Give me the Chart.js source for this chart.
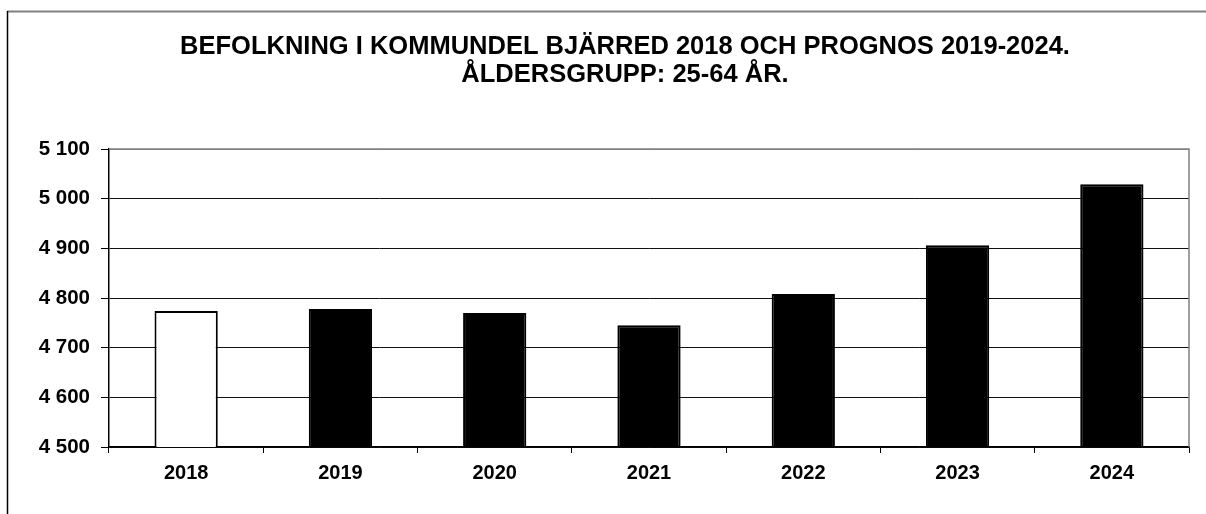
<!DOCTYPE html>
<html>
<head>
<meta charset="utf-8">
<script src="https://cdn.jsdelivr.net/npm/chart.js@4/dist/chart.umd.min.js"></script>
<style>
  html, body { margin: 0; padding: 0; background: #fff; }
  #wrap { width: 1206px; height: 514px; position: relative; }
</style>
</head>
<body>
<div id="wrap"><canvas id="befChart" width="1206" height="514"></canvas></div>
<script>
// ============================================================
// DATA
// ============================================================
var years  = ['2018', '2019', '2020', '2021', '2022', '2023', '2024'];
var values = [4774, 4778, 4770, 4745, 4808, 4906, 5029];
var barColors = ['#ffffff', '#000000', '#000000', '#000000', '#000000', '#000000', '#000000'];
var yMin = 4500, yMax = 5100, yStep = 100;
var titleLines = ['BEFOLKNING I KOMMUNDEL BJÄRRED 2018 OCH PROGNOS 2019-2024.', 'ÅLDERSGRUPP: 25-64 ÅR.'];

var FONT = '"Liberation Sans", Arial, Helvetica, sans-serif';

function fmtNum(v) {
  return String(v).replace(/\B(?=(\d{3})+(?!\d))/g, ' ');
}

// frame + title drawn around the chart
var framePlugin = {
  id: 'frame',
  beforeDraw: function(chart) {
    var c = chart.ctx;
    c.save();
    c.fillStyle = '#fff';
    c.fillRect(0, 0, chart.width, chart.height);
    // outer border (top gray, left black)
    c.strokeStyle = '#808080';
    c.lineWidth = 2;
    c.beginPath(); c.moveTo(7, 11.5); c.lineTo(chart.width, 11.5); c.stroke();
    c.strokeStyle = '#000';
    c.lineWidth = 1.5;
    c.beginPath(); c.moveTo(7.5, 11); c.lineTo(7.5, chart.height); c.stroke();
    // title
    c.fillStyle = '#000';
    c.font = 'bold 25.5px ' + FONT;
    c.textAlign = 'center';
    c.textBaseline = 'middle';
    c.fillText(titleLines[0], 625, 47);
    c.fillText(titleLines[1], 625, 75);
    c.restore();
  },
  afterDatasetsDraw: function(chart) {
    var a = chart.chartArea, c = chart.ctx;
    c.save();
    c.strokeStyle = '#808080';
    c.lineWidth = 1.5;
    c.beginPath(); c.moveTo(a.left, a.top); c.lineTo(a.right, a.top); c.lineTo(a.right, a.bottom); c.stroke();
    c.restore();
  }
};

var ctx = document.getElementById('befChart').getContext('2d');
var befChart = new Chart(ctx, {
  type: 'bar',
  data: {
    labels: years,
    datasets: [{
      data: values,
      backgroundColor: barColors,
      borderColor: '#000',
      borderWidth: 2,
      barPercentage: 0.41,
      categoryPercentage: 1.0
    }]
  },
  options: {
    responsive: false,
    animation: false,
    devicePixelRatio: 1,
    layout: { padding: { top: 149, right: 17, bottom: 27, left: 0 } },
    plugins: {
      legend: { display: false },
      title: { display: false },
      tooltip: { enabled: false }
    },
    scales: {
      x: {
        afterFit: function(s) { s.height = 40; },
        grid: { display: true, drawOnChartArea: false, drawTicks: true, tickLength: 6, color: '#000', offset: true },
        border: { display: true, color: '#000', width: 1.5 },
        ticks: { color: '#000', padding: 8, font: { family: FONT, size: 20, weight: 'bold' } }
      },
      y: {
        min: yMin,
        max: yMax,
        afterFit: function(s) { s.width = 109; },
        grid: {
          drawTicks: true,
          tickLength: 8,
          color: function(c) { return c.tick && c.tick.value === yMax ? '#808080' : '#111'; },
          tickColor: '#000',
          lineWidth: 1
        },
        border: { display: true, color: '#000', width: 1.5 },
        ticks: {
          stepSize: yStep,
          color: '#000',
          padding: 11,
          font: { family: FONT, size: 20.5, weight: 'bold' },
          callback: function(v) { return fmtNum(v); }
        }
      }
    }
  },
  plugins: [framePlugin]
});
</script>
</body>
</html>
